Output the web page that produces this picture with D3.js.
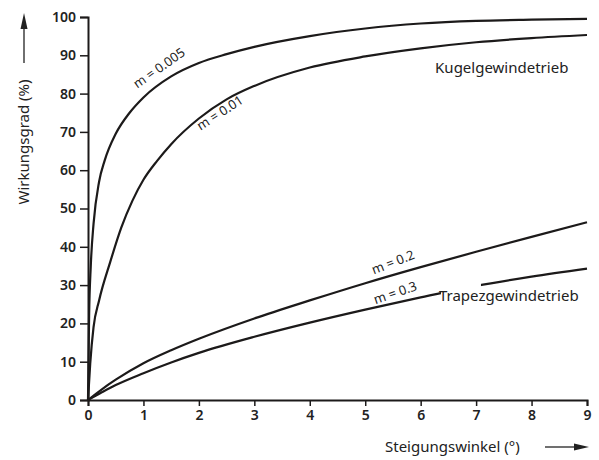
<!DOCTYPE html>
<html>
<head>
<meta charset="utf-8">
<script src="https://cdn.jsdelivr.net/npm/d3@7"></script>
<style>
  body { margin: 0; background: #fff; }
  svg text { font-family: "Noto Sans", "Open Sans", sans-serif; fill: #222; }
</style>
</head>
<body>
<svg id="chart" width="599" height="460"></svg>
<script>
// Steigungswinkel (deg) / Wirkungsgrad (%)
var xTicks = [0, 1, 2, 3, 4, 5, 6, 7, 8, 9]
var yTicks = [0, 10, 20, 30, 40, 50, 60, 70, 80, 90, 100]

var winkel005 = [0, 0.02, 0.05, 0.1, 0.2, 0.3, 0.5, 0.75, 1, 1.5, 2, 2.5, 3, 4, 5, 6, 7, 8, 9]
var grad005   = [0, 22, 35, 46, 57, 62.5, 69.5, 75, 79, 84.5, 88, 90.3, 92.2, 95, 97, 98.3, 99, 99.3, 99.5]

var winkel01 = [0, 0.04, 0.1, 0.2, 0.4, 0.6, 0.8, 1, 1.25, 1.5, 2, 2.5, 3, 4, 5, 6, 7, 8, 9]
var grad01   = [0, 9.5, 19, 26, 36, 45, 52, 57.5, 62.5, 66.8, 73.5, 78.5, 82, 86.8, 89.7, 91.8, 93.4, 94.5, 95.3]

var winkel02 = [0, 0.25, 0.5, 1, 1.5, 2, 3, 4, 5, 6, 7, 8, 9]
var grad02   = [0, 2.8, 5.3, 9.6, 13, 16, 21.3, 26, 30.5, 34.7, 38.7, 42.6, 46.4]

var winkel03 = [0, 0.25, 0.5, 1, 1.5, 2, 3, 4, 5, 6, 7, 8, 9]
var grad03   = [0, 2, 3.9, 7, 9.8, 12.3, 16.5, 20.2, 23.6, 26.8, 29.8, 32.2, 34.3]

var svg = d3.select("#chart")
var x = d3.scaleLinear().domain([0, 9]).range([88, 587])
var y = d3.scaleLinear().domain([0, 100]).range([400, 17])

var line = d3.line()
  .x(d => x(d[0]))
  .y(d => y(d[1]))
  .curve(d3.curveMonotoneX)

function zipSeries(xs, ys) {
  return xs.map((v, i) => [v, ys[i]])
}

var series = [
  zipSeries(winkel005, grad005),
  zipSeries(winkel01, grad01),
  zipSeries(winkel02, grad02),
  zipSeries(winkel03, grad03)
]

svg.selectAll("path.curve")
  .data(series)
  .enter()
  .append("path")
  .attr("class", "curve")
  .attr("d", line)
  .attr("fill", "none")
  .attr("stroke", "#1c1a1a")
  .attr("stroke-width", 2.2)

// axes
var xAxis = svg.append("g")
  .attr("transform", `translate(0,${y(0)})`)
  .call(d3.axisBottom(x).tickValues(xTicks).tickSize(6).tickPadding(4).tickFormat(d3.format("d")))
var yAxis = svg.append("g")
  .attr("transform", `translate(${x(0)},0)`)
  .call(d3.axisLeft(y).tickValues(yTicks).tickSize(8).tickPadding(4).tickFormat(d3.format("d")))

;[xAxis, yAxis].forEach(g => {
  g.select(".domain").attr("stroke", "#1c1a1a").attr("stroke-width", 2)
  g.selectAll(".tick line").attr("stroke", "#1c1a1a").attr("stroke-width", 1.5)
  g.selectAll(".tick text")
    .attr("fill", "#222")
    .style("font-family", "'Noto Sans', sans-serif")
    .style("font-size", "14px")
    .style("font-weight", "600")
})

// curve labels (centre of each label)
var labels = [
  { t: "m = 0.005", x: 1.28, y: 86.7, a: -35 },
  { t: "m = 0.01", x: 2.38, y: 75, a: -33 },
  { t: "m = 0.2", x: 5.5, y: 36, a: -21 },
  { t: "m = 0.3", x: 5.54, y: 28, a: -19 }
]
svg.selectAll("text.mlab")
  .data(labels)
  .enter()
  .append("text")
  .attr("class", "mlab")
  .attr("text-anchor", "middle")
  .attr("dy", "0.35em")
  .attr("transform", d => `translate(${x(d.x)},${y(d.y)}) rotate(${d.a})`)
  .style("font-size", "13px")
  .text(d => d.t)

svg.append("text")
  .attr("x", x(6.26))
  .attr("y", y(85.4))
  .style("font-size", "15px")
  .text("Kugelgewindetrieb")

var trap = svg.append("text")
  .attr("x", x(6.33))
  .attr("y", y(25.8))
  .style("font-size", "15px")
  .text("Trapezgewindetrieb")
// the m = 0.3 curve breaks where it runs into the label
var bb = trap.node().getBBox()
svg.append("rect")
  .attr("x", bb.x + 2)
  .attr("y", bb.y - 5)
  .attr("width", 40)
  .attr("height", bb.height)
  .attr("fill", "#fff")
trap.raise()

// axis titles with arrows
svg.append("text")
  .attr("x", 385)
  .attr("y", 452)
  .style("font-size", "15px")
  .text("Steigungswinkel (°)")
svg.append("line")
  .attr("x1", 545).attr("x2", 576).attr("y1", 447).attr("y2", 447)
  .attr("stroke", "#222").attr("stroke-width", 1.3)
svg.append("path")
  .attr("d", "M574,443.5 L589,447 L574,450.5 Z")
  .attr("fill", "#222")

svg.append("text")
  .attr("transform", "translate(29,142) rotate(-90)")
  .attr("text-anchor", "middle")
  .style("font-size", "15px")
  .text("Wirkungsgrad (%)")
svg.append("line")
  .attr("x1", 24).attr("x2", 24).attr("y1", 63).attr("y2", 26)
  .attr("stroke", "#222").attr("stroke-width", 1.3)
svg.append("path")
  .attr("d", "M20.5,29 L24,13 L27.5,29 Z")
  .attr("fill", "#222")
</script>
</body>
</html>
